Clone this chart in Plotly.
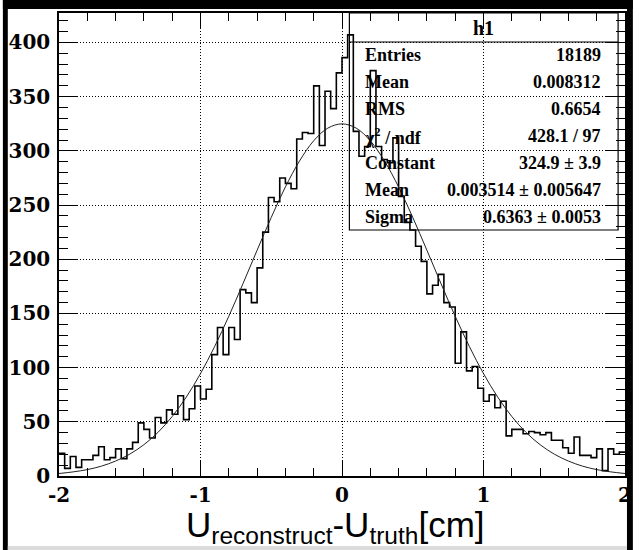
import numpy as np
import plotly.graph_objects as go

# ---------------- data ----------------
BIN_LO, BIN_HI, NBINS = -2.0, 2.0, 100

counts = [
    21, 7, 18, 8, 15, 15, 19, 27, 15, 17,
    25, 16, 25, 31, 49, 43, 35, 54, 49, 61,
    57, 74, 52, 62, 83, 71, 80, 112, 137, 112,
    137, 126, 172, 169, 160, 192, 225, 257, 253, 275,
    270, 265, 311, 317, 316, 360, 305, 355, 339, 372,
    386, 407, 318, 295, 304, 374, 304, 292, 289, 312,
    258, 234, 227, 212, 198, 168, 176, 186, 160, 156,
    104, 133, 97, 101, 81, 69, 75, 63, 69, 37,
    43, 43, 39, 41, 40, 38, 40, 33, 33, 26,
    21, 36, 19, 19, 17, 25, 5, 25, 20, 22,
]

# fitted gaussian curve
fit_x = [-2.0, -1.9, -1.8, -1.7, -1.6, -1.5, -1.4, -1.3, -1.2, -1.1, -1.0,
         -0.9, -0.8, -0.7, -0.6, -0.5, -0.4, -0.3, -0.2, -0.1, 0.0,
         0.1, 0.2, 0.3, 0.4, 0.5, 0.6, 0.7, 0.8, 0.9, 1.0,
         1.1, 1.2, 1.3, 1.4, 1.5, 1.6, 1.7, 1.8, 1.9, 2.0]
fit_y = [2.3, 3.8, 5.9, 9.1, 13.8, 20.2, 28.9, 40.3, 54.9, 72.9, 94.5,
         119.5, 147.4, 177.4, 208.3, 238.6, 266.7, 290.7, 309.3, 321.0, 324.9,
         321.0, 309.3, 290.7, 266.7, 238.6, 208.3, 177.4, 147.4, 119.5, 94.5,
         72.9, 54.9, 40.3, 28.9, 20.2, 13.8, 9.1, 5.9, 3.8, 2.3]

x_tick_vals = [-2, -1, 0, 1, 2]
y_tick_vals = [0, 50, 100, 150, 200, 250, 300, 350, 400]
Y_MAX = 427.2

hist_name = "h1"
stats_labels = ["Entries", "Mean", "RMS", "χ<sup>2</sup> / ndf",
                "Constant", "Mean", "Sigma"]
stats_values = ["18189", "0.008312", "0.6654", "428.1 / 97",
                "324.9 ± 3.9", "0.003514 ± 0.005647", "0.6363 ± 0.0053"]

x_title = "U<sub>reconstruct</sub>-U<sub>truth</sub>[cm]"

# ---------------- figure ----------------
W, H = 640, 550
ML, MR, MT, MB = 57, 8, 13, 74
PW, PH = W - ML - MR, H - MT - MB


def px(x):
    return (x - ML) / PW


def py(y):
    return (H - MB - y) / PH


edges = np.linspace(BIN_LO, BIN_HI, NBINS + 1)
step_x = list(edges)
step_y = list(counts) + [counts[-1]]

fig = go.Figure()
fig.add_trace(go.Scatter(x=step_x, y=step_y, mode="lines",
                         line=dict(color="black", width=1.6, shape="hv"),
                         hoverinfo="skip", showlegend=False))
fig.add_trace(go.Scatter(x=fit_x, y=fit_y, mode="lines",
                         line=dict(color="#222", width=1, shape="spline"),
                         hoverinfo="skip", showlegend=False))

tick_font = dict(family="DejaVu Serif", size=20, color="black", weight="bold")

fig.update_layout(
    width=W, height=H,
    margin=dict(l=ML, r=MR, t=MT, b=MB, pad=0),
    paper_bgcolor="white", plot_bgcolor="white",
    showlegend=False,
    xaxis=dict(range=[BIN_LO, BIN_HI], tickvals=x_tick_vals,
               ticktext=[str(v) for v in x_tick_vals],
               ticks="inside", ticklen=15, tickwidth=1, tickcolor="black",
               showline=True, linecolor="black", linewidth=1.5, mirror="allticks",
               showgrid=True, gridcolor="black", griddash="1px,2px", gridwidth=1,
               zeroline=False, tickfont=tick_font, ticklabelstandoff=0,
               minor=dict(dtick=0.2, ticklen=8, ticks="inside", tickcolor="black",
                          showgrid=False)),
    yaxis=dict(range=[0, Y_MAX], tickvals=y_tick_vals,
               ticks="inside", ticklen=19, tickwidth=1, tickcolor="black",
               showline=True, linecolor="black", linewidth=1.5, mirror="allticks",
               showgrid=True, gridcolor="black", griddash="1px,2px", gridwidth=1,
               zeroline=False, tickfont=tick_font, ticklabelstandoff=3,
               minor=dict(dtick=10, ticklen=9, ticks="inside", tickcolor="black",
                          showgrid=False)),
)

shapes = []
# outer dark borders of the canvas
shapes.append(dict(type="rect", xref="paper", yref="paper", x0=px(0), x1=px(W),
                   y0=py(0), y1=py(9), fillcolor="black", line_width=0, layer="above"))
shapes.append(dict(type="rect", xref="paper", yref="paper", x0=px(0), x1=px(5),
                   y0=py(0), y1=py(H), fillcolor="black", line_width=0, layer="above"))
shapes.append(dict(type="rect", xref="paper", yref="paper", x0=px(634), x1=px(W),
                   y0=py(0), y1=py(H), fillcolor="black", line_width=0, layer="above"))
shapes.append(dict(type="rect", xref="paper", yref="paper", x0=px(5), x1=px(634),
                   y0=py(546), y1=py(H), fillcolor="#dcdcdc", line_width=0, layer="above"))
# stats box
BX0, BX1, BY0, BY1, BSEP = 352, 625, 13, 230, 42
shapes.append(dict(type="rect", xref="paper", yref="paper", x0=px(BX0), x1=px(BX1),
                   y0=py(BY1), y1=py(BY0), line=dict(color="black", width=1.2),
                   fillcolor="rgba(0,0,0,0)", layer="above"))
shapes.append(dict(type="line", xref="paper", yref="paper", x0=px(BX0), x1=px(BX1),
                   y0=py(BSEP), y1=py(BSEP), line=dict(color="black", width=1.2),
                   layer="above"))
fig.update_layout(shapes=shapes)

ann = []
stat_font = dict(family="Liberation Serif", size=18, color="black", weight="bold")
ann.append(dict(xref="paper", yref="paper", x=px((BX0 + BX1) / 2), y=py(27.5),
                text=hist_name, showarrow=False, xanchor="center", yanchor="middle",
                font=dict(family="Liberation Serif", size=20, color="black", weight="bold")))
row_h = (BY1 - BSEP) / len(stats_labels)
for i, (lab, val) in enumerate(zip(stats_labels, stats_values)):
    yc = BSEP + row_h * (i + 0.5)
    ann.append(dict(xref="paper", yref="paper", x=px(366), y=py(yc), text=lab,
                    showarrow=False, xanchor="left", yanchor="middle", font=stat_font))
    ann.append(dict(xref="paper", yref="paper", x=px(610), y=py(yc), text=val,
                    showarrow=False, xanchor="right", yanchor="middle", font=stat_font))
ann.append(dict(xref="paper", yref="paper", x=px(338), y=py(527), text=x_title,
                showarrow=False, xanchor="center", yanchor="middle",
                font=dict(family="Liberation Sans", size=35, color="black")))
fig.update_layout(annotations=ann)

fig.write_html("out.html")
